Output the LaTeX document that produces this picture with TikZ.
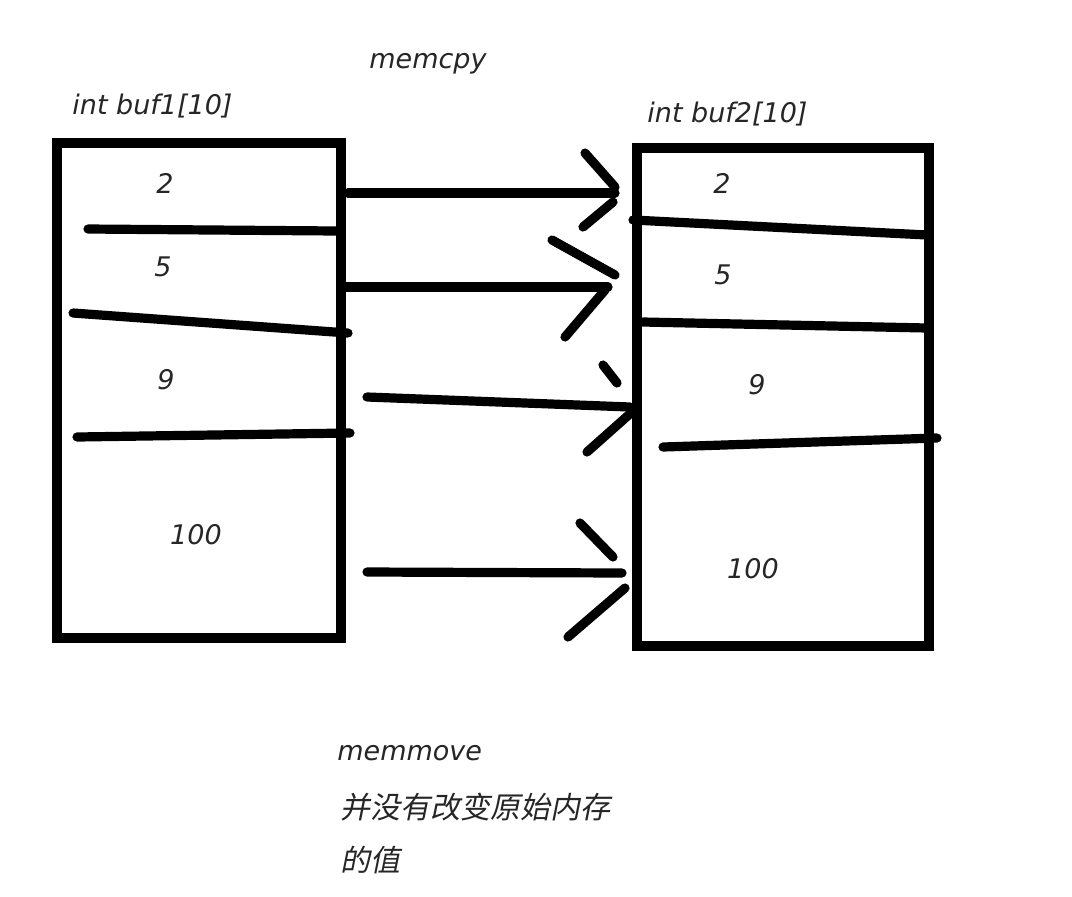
\documentclass[tikz,border=0pt]{standalone}
\usepackage{fontspec}
\setmainfont{DejaVu Sans}
\newfontfamily\cjk[FakeSlant=0.2]{Noto Sans CJK SC}
\usepackage{tikz}
\usetikzlibrary{positioning}

\begin{document}
\begin{tikzpicture}[x=0.5pt, y=-0.5pt]
	\tikzstyle{Label}  = [inner sep=0pt, text=black!85, font=\itshape\fontsize{13.5}{16}\selectfont]
	\tikzstyle{Note}   = [Label, anchor=base west]
	\tikzstyle{Buffer} = [draw, line width=5pt, minimum height=248pt, inner sep=0pt]
	\tikzstyle{Stroke} = [line width=4.6pt, line cap=round]

	\useasboundingbox [fill=white] (0,0) rectangle (1072,896);

	% the two arrays
	\node (buf1) at (199,390.5) [Buffer, minimum width=142pt, minimum height=247.5pt] {};
	\node (buf2) at (783,396.5) [Buffer, minimum width=146pt, minimum height=249pt] {};

	\node (name1) at (72,114)  [Note] {int buf1[10]};
	\node (name2) at (647,122) [Note] {int buf2[10]};
	\node (copy)  at (369,68)  [Note] {memcpy};

	% cells
	\foreach \a/\b/\c/\d in {88/229/337/231, 73/313/348/333, 77/437/350/433,
			633/220/927/235, 643/322/927/328, 663/447/937/438}
		\draw [Stroke] (\a,\b) -- (\c,\d);

	\foreach \n/\x/\y/\v in {a1/165/183/2, a2/163/267/5, a3/166/380/9, a4/196/535/100,
			b1/722/183/2, b2/723/275/5, b3/757/385/9, b4/753/569/100}
		\node (\n) at (\x,\y) [Label] {\v};

	% hand drawn arrows
	\foreach \n/\sx/\sy/\ex/\ey in {1/348/193/615/193, 2/345/287/608/287,
			3/367/397/630/407, 4/367/572/622/573} {
		\coordinate (s\n) at (\sx,\sy);
		\coordinate (e\n) at (\ex,\ey);
		\draw [Stroke] (s\n) -- (e\n);
	}
	\foreach \a/\b/\c/\d in {585/153/615/187, 613/202/583/227,
			552/240/615/275, 605/290/565/337,
			603/365/617/383, 632/412/587/452,
			580/523/613/557, 625/588/568/637}
		\draw [Stroke] (\a,\b) -- (\c,\d);

	\node (move)  at (337,760) [Note] {memmove};
	\node (note1) at (340,818) [Note, font=\cjk\fontsize{15}{18}\selectfont] {并没有改变原始内存};
	\node (note2) at (340,871) [Note, font=\cjk\fontsize{15}{18}\selectfont] {的值};
\end{tikzpicture}
\end{document}
